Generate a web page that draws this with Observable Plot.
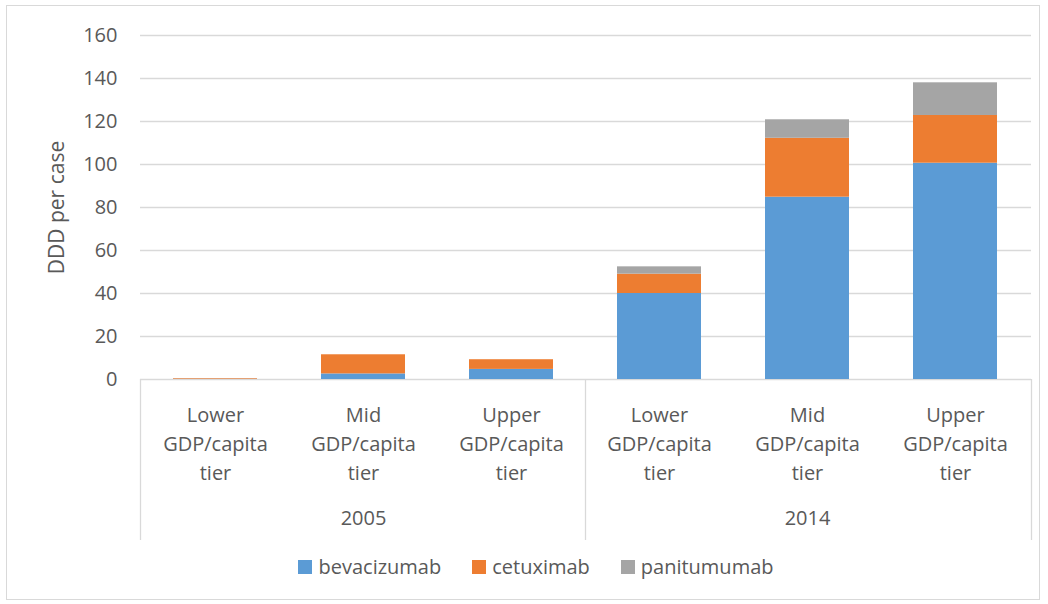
<!DOCTYPE html>
<html>
<head>
<meta charset="utf-8">
<script src="https://cdn.jsdelivr.net/npm/d3@7"></script>
<script src="https://cdn.jsdelivr.net/npm/@observablehq/plot@0.6"></script>
<style>
  body { margin: 0; background: #fff; font-family: "Open Sans", sans-serif; }
  #frame { position: absolute; left: 6px; top: 5px; width: 1034px; height: 595px; border: 1px solid #d9d9d9; box-sizing: border-box; }
  #chart { position: absolute; left: 0; top: 0; }
  #legend { position: absolute; top: 553px; left: 26px; width: 1020px; display: flex; justify-content: center; gap: 31px; font-size: 20px; color: #595959; line-height: 28px; }
  #legend .item { display: flex; align-items: center; gap: 6px; }
  #legend .sw { width: 14px; height: 14px; display: inline-block; }
</style>
</head>
<body>
<div id="frame"></div>
<div id="chart"></div>
<div id="legend"></div>
<script>
// ---- data ----
const years = ["2005", "2014"];
const tiers = ["Lower GDP/capita tier", "Mid GDP/capita tier", "Upper GDP/capita tier"];
const tierLines = ["Lower\nGDP/capita\ntier", "Mid\nGDP/capita\ntier", "Upper\nGDP/capita\ntier"];
const drugs = ["bevacizumab", "cetuximab", "panitumumab"];
const colors = ["#5b9bd5", "#ed7d31", "#a5a5a5"];
// values in order: 2005 Lower, Mid, Upper, 2014 Lower, Mid, Upper
const bevacizumab = [0.1, 2.6, 4.7, 40.0, 84.8, 100.6];
const cetuximab   = [0.3, 8.9, 4.5, 9.0, 27.4, 22.2];
const panitumumab = [0.0, 0.0, 0.0, 3.4, 8.6, 15.2];
const yTicks = [0, 20, 40, 60, 80, 100, 120, 140, 160];
const yLabel = "DDD per case";

// ---- build tables ----
const keys = [];
const cats = [];
years.forEach(yr => tiers.forEach((t, i) => {
  const k = yr + "|" + t;
  keys.push(k);
  cats.push({key: k, label: tierLines[i]});
}));
const series = {bevacizumab, cetuximab, panitumumab};
const rows = [];
drugs.forEach(d => keys.forEach((k, i) => rows.push({key: k, drug: d, value: series[d][i]})));
const yearRows = years.map(yr => ({key: yr + "|" + tiers[1], year: yr}));

const chart = Plot.plot({
  width: 1048,
  height: 545,
  marginTop: 35,
  marginBottom: 166,
  marginLeft: 140,
  marginRight: 17,
  style: {fontFamily: "'Open Sans', sans-serif", fontSize: "20px", color: "#595959", background: "transparent", overflow: "visible"},
  x: {domain: keys, paddingInner: 0.43, paddingOuter: 0.215, axis: null},
  y: {domain: [0, 160], axis: null},
  color: {domain: drugs, range: colors},
  marks: [
    Plot.gridY(yTicks, {stroke: "#d9d9d9", strokeOpacity: 1, strokeWidth: 1.3}),
    Plot.axisY(yTicks, {tickSize: 0, tickPadding: 23, fontSize: 20, fill: "#595959", label: null}),
    Plot.text([yLabel], {frameAnchor: "left", dx: -83, rotate: -90, fontSize: 21, fill: "#595959", textAnchor: "middle", lineAnchor: "middle"}),
    Plot.barY(rows, {x: "key", y: "value", fill: "drug", order: drugs}),
    Plot.text(cats, {x: "key", text: "label", frameAnchor: "bottom", dy: 22, lineAnchor: "top", lineHeight: 1.45, fontSize: 20, fill: "#595959", clip: false}),
    Plot.text(yearRows, {x: "key", text: "year", frameAnchor: "bottom", dy: 139, lineAnchor: "middle", fontSize: 20, fill: "#595959", clip: false})
  ]
});
document.getElementById("chart").appendChild(chart);

// category box lines below the axis, placed with the plot's scales
const xs = chart.scale("x");
const ys = chart.scale("y");
const y0 = ys.apply(0);
const gap = (xs.step - xs.bandwidth) / 2;
const sepXs = [xs.range[0], xs.apply(keys[3]) - gap, xs.range[1]];
d3.select(chart).append("g")
  .attr("stroke", "#d9d9d9").attr("stroke-width", 1.3)
  .selectAll("line").data(sepXs).join("line")
  .attr("x1", d => Math.round(d) + 0.5).attr("x2", d => Math.round(d) + 0.5)
  .attr("y1", y0).attr("y2", y0 + 161);

// legend
const lg = d3.select("#legend");
drugs.forEach((d, i) => {
  const it = lg.append("div").attr("class", "item");
  it.append("span").attr("class", "sw").style("background", colors[i]);
  it.append("span").text(d);
});
</script>
</body>
</html>
